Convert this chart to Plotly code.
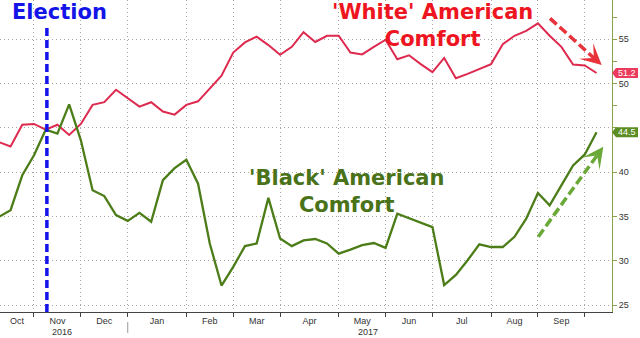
import math
import pandas as pd
import plotly.graph_objects as go

# ---------------- data ----------------
weeks = pd.date_range("2016-10-16", periods=52, freq="7D")

white_comfort = [43.4, 42.9, 45.35, 45.45, 44.8, 45.35, 44.2, 45.45, 47.6, 47.9,
                 49.3, 48.3, 47.4, 47.9, 46.85, 46.5, 47.6, 48.0, 49.4, 50.9,
                 53.5, 54.65, 55.3, 54.35, 53.25, 54.15, 55.8, 54.7, 55.4, 55.4,
                 53.5, 53.3, 54.15, 54.95, 52.75, 53.2, 52.2, 51.3, 52.9, 50.6,
                 51.1, 51.65, 52.2, 54.45, 55.4, 55.95, 56.8, 55.4, 54.15, 52.15,
                 52.05, 51.2]

black_comfort = [34.95, 35.7, 39.65, 41.9, 44.8, 44.35, 47.65, 43.6, 37.95, 37.3,
                 35.15, 34.5, 35.4, 34.4, 39.1, 40.45, 41.4, 38.7, 31.95, 27.2,
                 29.3, 31.65, 31.95, 37.1, 32.5, 31.65, 32.3, 32.45, 31.95, 30.8,
                 31.25, 31.75, 32.0, 31.45, 35.3, 34.8, 34.3, 33.8, 27.25, 28.4,
                 30.05, 31.85, 31.55, 31.55, 32.7, 34.75, 37.65, 36.25, 38.5, 40.75,
                 42.0, 44.5]

y_tick_vals = [25, 30, 35, 40, 45, 50, 55]
y_tick_text = ["25", "30", "35", "40", "", "50", "55"]
y_minor_vals = [47.5, 52.5, 57.5]

# ---------------- style ----------------
RED = "#dd2a4e"
GREEN = "#4c7d18"
RED_TXT = "#ee1520"
GREEN_TXT = "#4a7219"
BLUE = "#1414e8"
GRID = "#a8a8a8"
AXIS_GREEN = "#86a34a"
TICK_FONT = dict(family="Liberation Sans, Arial, sans-serif", size=9, color="#333333")
BOLD = "DejaVu Sans, Verdana, sans-serif"

X_RANGE = [0.1, 52.32]
Y_RANGE = [24.21, 59.44]
PLOT_W, PLOT_H = 612, 312
px_per_x = PLOT_W / (X_RANGE[1] - X_RANGE[0])
px_per_y = PLOT_H / (Y_RANGE[1] - Y_RANGE[0])

idx = list(range(len(weeks)))

# month boundaries (first week of each month) and mid-month label positions
bounds = [i for i in range(1, len(weeks)) if weeks[i].month != weeks[i - 1].month]
starts = [X_RANGE[0]] + bounds[:-1]
month_pos = [(a + b) / 2 for a, b in zip(starts, bounds)]
month_txt = [weeks[max(0, math.ceil(a))].strftime("%b") for a in starts]
year_break = [i for i in range(1, len(weeks)) if weeks[i].year != weeks[i - 1].year][0]

fig = go.Figure()
fig.add_trace(go.Scatter(x=idx, y=white_comfort, mode="lines",
                         line=dict(color=RED, width=2), hoverinfo="skip"))
fig.add_trace(go.Scatter(x=idx, y=black_comfort, mode="lines",
                         line=dict(color=GREEN, width=2.3), hoverinfo="skip"))

fig.update_layout(
    width=640, height=338,
    margin=dict(l=0, r=640 - PLOT_W, t=0, b=338 - PLOT_H),
    paper_bgcolor="white", plot_bgcolor="white",
    showlegend=False,
    xaxis=dict(
        range=X_RANGE, tickmode="array", tickvals=month_pos, ticktext=month_txt,
        ticks="", showgrid=False, zeroline=False,
        showline=True, linecolor="#444444", linewidth=1,
        tickfont=TICK_FONT,
        minor=dict(tickmode="array", tickvals=bounds, ticks="outside", ticklen=4,
                   tickcolor="#444444", showgrid=True, gridcolor=GRID,
                   griddash="1px,3px", gridwidth=1),
    ),
    yaxis=dict(
        range=Y_RANGE, side="right", tickmode="array",
        tickvals=y_tick_vals, ticktext=y_tick_text,
        ticks="outside", ticklen=4, tickcolor=AXIS_GREEN,
        showline=True, linecolor=AXIS_GREEN, linewidth=1,
        showgrid=True, gridcolor=GRID, griddash="1px,3px", gridwidth=1,
        zeroline=False, tickfont=TICK_FONT,
        minor=dict(tickmode="array", tickvals=y_minor_vals, ticks="outside", ticklen=4,
                   tickcolor=AXIS_GREEN, showgrid=False),
    ),
)

# year labels and separator
fig.add_annotation(x=month_pos[1], y=0, xref="x", yref="paper", text="2016",
                   showarrow=False, yanchor="top", yshift=-13, xshift=5, font=TICK_FONT)
fig.add_annotation(x=month_pos[7], y=0, xref="x", yref="paper", text="2017",
                   showarrow=False, yanchor="top", yshift=-13, xshift=6, font=TICK_FONT)
fig.add_shape(type="line", xref="x", yref="paper", x0=year_break, x1=year_break,
              y0=-10 / PLOT_H, y1=-21 / PLOT_H, line=dict(color="#999999", width=1))

# election line
ELECTION_X = 4.1
fig.add_shape(type="line", xref="x", yref="paper", x0=ELECTION_X, x1=ELECTION_X,
              y0=0, y1=0.914, line=dict(color=BLUE, width=3.5, dash="8px,4px"))
fig.add_annotation(x=0.016, y=0.962, xref="paper", yref="paper", text="<b>Election</b>",
                   showarrow=False, xanchor="left", yanchor="middle",
                   font=dict(family=BOLD, size=21, color=BLUE))

# series titles
fig.add_annotation(x=0.706, y=0.917, xref="paper", yref="paper",
                   text="<b>'White' American<br>Comfort</b>", showarrow=False,
                   xanchor="center", yanchor="middle",
                   font=dict(family=BOLD, size=21, color=RED_TXT))
fig.add_annotation(x=0.5655, y=0.385, xref="paper", yref="paper",
                   text="<b>'Black' American<br>Comfort</b>", showarrow=False,
                   xanchor="center", yanchor="middle",
                   font=dict(family=BOLD, size=21, color=GREEN_TXT))


# dashed trend arrows
def dashed_arrow(x0, y0, x1, y1, color):
    dxp = (x1 - x0) * px_per_x
    dyp = -(y1 - y0) * px_per_y
    L = math.hypot(dxp, dyp)
    ux, uy = dxp / L, dyp / L
    head = 9
    ax, ay = -ux * head, -uy * head
    xt = x1 + ax / px_per_x
    yt = y1 - ay / px_per_y
    fig.add_shape(type="line", xref="x", yref="y", x0=x0, y0=y0, x1=xt, y1=yt,
                  line=dict(color=color, width=3.5, dash="9px,4px"))
    fig.add_annotation(x=x1, y=y1, xref="x", yref="y", ax=ax, ay=ay, text="",
                       showarrow=True, arrowhead=3, arrowsize=1.0, arrowwidth=3.5,
                       arrowcolor=color, standoff=0, startstandoff=0)


dashed_arrow(47.03, 57.37, 51.44, 52.1, "#e8333a")
dashed_arrow(46.03, 32.71, 51.58, 42.87, "#6aa938")


# last-value tags
def tag(value, color):
    fig.add_shape(type="path", xref="paper", yref="y", xsizemode="pixel",
                  ysizemode="pixel", xanchor=1, yanchor=value,
                  path="M0,0 L4,5 L26,5 L26,-5 L4,-5 Z",
                  fillcolor=color, line=dict(width=0), layer="above")
    fig.add_annotation(x=1, y=value, xref="paper", yref="y", text=f"{value:.1f}",
                       showarrow=False, xanchor="center", yanchor="middle",
                       xshift=15, font=dict(family="Liberation Sans, Arial", size=9,
                                            color="white"))


tag(white_comfort[-1], "#ec3a5c")
tag(black_comfort[-1], "#5b8d22")

fig.write_html("out.html")
